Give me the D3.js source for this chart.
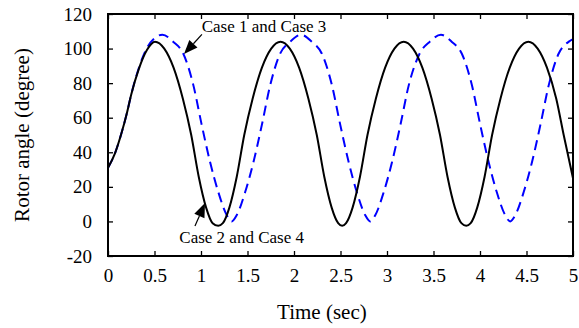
<!DOCTYPE html>
<html>
<head>
<meta charset="utf-8">
<script src="https://cdn.jsdelivr.net/npm/d3@7"></script>
<style>
  html, body { margin: 0; padding: 0; background: #fff; }
  svg { display: block; }
  text { font-family: "Liberation Serif", "Times New Roman", serif; fill: #000; }
</style>
</head>
<body>
<div id="chart"></div>
<script>
// ---- data ----
const blackTime = [0, 0.075, 0.15, 0.2, 0.25, 0.33, 0.42, 0.505,
  0.605, 0.705, 0.805, 0.895, 0.975, 1.055, 1.125, 1.185,
  1.235, 1.305, 1.385, 1.465, 1.555, 1.655, 1.755, 1.855,
  1.955, 2.055, 2.155, 2.245, 2.325, 2.405, 2.475, 2.518,
  2.56, 2.63, 2.71, 2.79, 2.88, 2.98, 3.08, 3.18,
  3.28, 3.38, 3.48, 3.57, 3.65, 3.73, 3.80, 3.852,
  3.90, 3.97, 4.05, 4.13, 4.22, 4.32, 4.42, 4.52,
  4.62, 4.72, 4.82, 4.90, 5.0];
const blackAngle = [31, 39.4, 52, 62, 73.5, 88, 99.3, 104,
  100, 89, 71, 50, 26, 8, -1, -2.5,
  -1, 8, 26, 50, 71, 89, 100, 104,
  100, 89, 71, 50, 26, 8, -1, -2.5,
  -1, 8, 26, 50, 71, 89, 100, 104,
  100, 89, 71, 50, 26, 8, -1, -2.5,
  -1, 8, 26, 50, 71, 89, 100, 104,
  100, 89, 71, 50, 25];

const blueTime = [0, 0.075, 0.15, 0.2, 0.25, 0.33, 0.42, 0.5, 0.585,
  0.7, 0.81, 0.917, 1.007, 1.097, 1.186, 1.276, 1.33,
  1.385, 1.475, 1.565, 1.655, 1.745, 1.85, 1.96, 2.075,
  2.19, 2.30, 2.407, 2.497, 2.587, 2.675, 2.765, 2.82,
  2.875, 2.965, 3.055, 3.145, 3.235, 3.35, 3.46, 3.58,
  3.695, 3.805, 3.912, 4.002, 4.092, 4.18, 4.27, 4.325,
  4.38, 4.47, 4.56, 4.65, 4.74, 4.845, 4.955, 5.0];
const blueAngle = [31, 39.4, 52, 62, 73.5, 88.5, 100.5, 106, 108,
  104, 97, 79, 56, 34.5, 17, 3.7, 0,
  3.7, 17, 34.5, 56, 79, 97, 104, 108,
  104, 97, 79, 56, 34.5, 17, 3.7, 0,
  3.7, 17, 34.5, 56, 79, 97, 104, 108,
  104, 97, 79, 56, 34.5, 17, 3.7, 0,
  3.7, 17, 34.5, 56, 79, 97, 104, 105.5];

const xTicks = [0, 0.5, 1, 1.5, 2, 2.5, 3, 3.5, 4, 4.5, 5];
const yTicks = [-20, 0, 20, 40, 60, 80, 100, 120];

// annotation: label position, arrow tail -> arrow tip (data units)
const noteLabels = ['Case 1 and Case 3', 'Case 2 and Case 4'];
const noteText = [[1.008, 109.7], [0.767, -12.7]];
const noteTail = [[1.01, 108.2], [0.935, -2.7]];
const noteTip = [[0.817, 96.8], [1.043, 10.6]];

// ---- layout ----
const W = 579, H = 328;
const margin = { top: 14, right: 6, bottom: 72, left: 108 };
const w = W - margin.left - margin.right;
const h = H - margin.top - margin.bottom;

const svg = d3.select('#chart').append('svg')
  .attr('width', W)
  .attr('height', H);

const g = svg.append('g').attr('transform', `translate(${margin.left},${margin.top})`);

const x = d3.scaleLinear().domain([0, 5]).range([0, w]);
const y = d3.scaleLinear().domain([-20, 120]).range([h, 0]);

const TICK = 5;
const fmt = d => String(d);

// bottom / left axes with inward ticks
const xAxis = g.append('g')
  .attr('transform', `translate(0,${h})`)
  .call(d3.axisBottom(x).tickValues(xTicks).tickSizeInner(-TICK).tickSizeOuter(0).tickPadding(13).tickFormat(fmt));
const yAxis = g.append('g')
  .call(d3.axisLeft(y).tickValues(yTicks).tickSizeInner(-TICK).tickSizeOuter(0).tickPadding(16).tickFormat(fmt));
// top / right ticks, no labels
const xTop = g.append('g')
  .call(d3.axisTop(x).tickValues(xTicks).tickSizeInner(-TICK).tickSizeOuter(0).tickFormat(''));
const yRight = g.append('g')
  .attr('transform', `translate(${w},0)`)
  .call(d3.axisRight(y).tickValues(yTicks).tickSizeInner(-TICK).tickSizeOuter(0).tickFormat(''));

[xAxis, yAxis, xTop, yRight].forEach(a => {
  a.attr('font-family', '"Liberation Serif", serif');
  a.select('.domain').remove();
  a.selectAll('line').attr('stroke', '#000').attr('stroke-width', 1.3);
  a.selectAll('text').attr('font-size', 19).attr('fill', '#000');
});

// series
const line = d3.line()
  .x(d => x(d[0]))
  .y(d => y(d[1]))
  .curve(d3.curveMonotoneX);

const blueData = blueTime.map((t, i) => [t, blueAngle[i]]);
const blackData = blackTime.map((t, i) => [t, blackAngle[i]]);

g.append('path')
  .datum(blueData)
  .attr('fill', 'none')
  .attr('stroke', '#0000ff')
  .attr('stroke-width', 2)
  .attr('stroke-dasharray', '10,6')
  .attr('d', line);

g.append('path')
  .datum(blackData)
  .attr('fill', 'none')
  .attr('stroke', '#000')
  .attr('stroke-width', 2)
  .attr('d', line);

// frame
g.append('rect')
  .attr('x', 0).attr('y', 0)
  .attr('width', w).attr('height', h)
  .attr('fill', 'none')
  .attr('stroke', '#000')
  .attr('stroke-width', 2);

// annotations
noteLabels.forEach((label, i) => {
  g.append('text')
    .attr('x', x(noteText[i][0]))
    .attr('y', y(noteText[i][1]))
    .attr('font-size', 17)
    .text(label);

  const x0 = x(noteTail[i][0]), y0 = y(noteTail[i][1]);
  const x1 = x(noteTip[i][0]), y1 = y(noteTip[i][1]);
  const ang = Math.atan2(y1 - y0, x1 - x0);
  const len = 14, half = 5.5;
  const bx = x1 - len * Math.cos(ang), by = y1 - len * Math.sin(ang);
  g.append('line')
    .attr('x1', x0).attr('y1', y0)
    .attr('x2', bx).attr('y2', by)
    .attr('stroke', '#000').attr('stroke-width', 1.2);
  g.append('polygon')
    .attr('points', [
      [x1, y1],
      [bx + half * Math.sin(ang), by - half * Math.cos(ang)],
      [bx - half * Math.sin(ang), by + half * Math.cos(ang)]
    ].map(p => p.join(',')).join(' '))
    .attr('fill', '#000');
});

// axis titles
svg.append('text')
  .attr('x', margin.left + x(2.3))
  .attr('y', 319)
  .attr('text-anchor', 'middle')
  .attr('font-size', 21)
  .text('Time (sec)');

svg.append('text')
  .attr('transform', `translate(29,${margin.top + y(50)}) rotate(-90)`)
  .attr('text-anchor', 'middle')
  .attr('font-size', 21)
  .text('Rotor angle (degree)');
</script>
</body>
</html>
